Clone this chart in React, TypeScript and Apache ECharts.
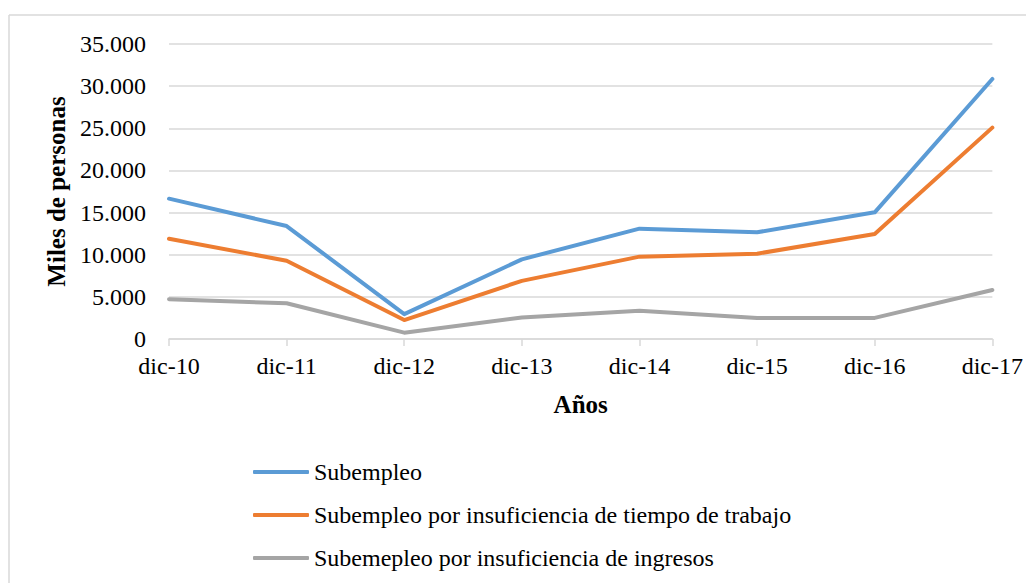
import React, { useEffect, useRef } from "react";
import * as echarts from "echarts";

const categories = ["dic-10", "dic-11", "dic-12", "dic-13", "dic-14", "dic-15", "dic-16", "dic-17"];
const subempleo = [16650, 13400, 2950, 9450, 13090, 12660, 15030, 30850];
const subTiempo = [11900, 9290, 2250, 6900, 9770, 10120, 12460, 25080];
const subIngresos = [4720, 4240, 750, 2560, 3360, 2500, 2500, 5820];
const seriesNames = [
  "Subempleo",
  "Subempleo por insuficiencia de tiempo de trabajo",
  "Subemepleo por insuficiencia de ingresos",
];
const colors = ["#5B9BD5", "#ED7D31", "#A5A5A5"];

const FONT = "'Liberation Serif', 'Times New Roman', serif";

export default function App() {
  const ref = useRef<HTMLDivElement>(null);
  useEffect(() => {
    if (!ref.current) return;
    const chart = echarts.init(ref.current, undefined, { renderer: "svg" });
    const fmt = (v: number) =>
      v === 0 ? "0" : String(v).replace(/\B(?=(\d{3})+(?!\d))/g, ".");
    const data = [subempleo, subTiempo, subIngresos];
    chart.setOption({
      animation: false,
      backgroundColor: "#ffffff",
      textStyle: { fontFamily: FONT, color: "#000" },
      grid: { left: 169, right: 32, top: 44, bottom: 244 },
      graphic: [
        { type: "line", shape: { x1: 9, y1: 15, x2: 9, y2: 600 }, style: { stroke: "#d9d9d9", lineWidth: 1.5 } },
        { type: "line", shape: { x1: 9, y1: 15, x2: 1040, y2: 15 }, style: { stroke: "#d9d9d9", lineWidth: 1.5 } },
      ],
      legend: {
        orient: "vertical",
        left: 253,
        top: 460,
        padding: 0,
        itemWidth: 56,
        itemHeight: 4,
        itemGap: 19,
        icon: "roundRect",
        textStyle: { fontFamily: FONT, fontSize: 24, color: "#000", lineHeight: 24 },
        data: seriesNames,
      },
      xAxis: {
        type: "category",
        data: categories,
        boundaryGap: false,
        axisLine: { lineStyle: { color: "#d9d9d9", width: 1.5 } },
        axisTick: { show: true, length: 7, lineStyle: { color: "#d9d9d9", width: 1.5 } },
        axisLabel: { fontFamily: FONT, fontSize: 24, color: "#000", margin: 15 },
        name: "Años",
        nameLocation: "middle",
        nameGap: 53,
        nameTextStyle: { fontFamily: FONT, fontSize: 25, fontWeight: "bold", color: "#000" },
      },
      yAxis: {
        type: "value",
        min: 0,
        max: 35000,
        interval: 5000,
        axisLine: { show: false },
        axisTick: { show: false },
        splitLine: { lineStyle: { color: "#d9d9d9", width: 1.5 } },
        axisLabel: { fontFamily: FONT, fontSize: 24, color: "#000", margin: 23, formatter: fmt },
        name: "Miles de personas",
        nameLocation: "middle",
        nameGap: 91,
        nameRotate: 90,
        nameTextStyle: { fontFamily: FONT, fontSize: 25, fontWeight: "bold", color: "#000" },
      },
      series: seriesNames.map((n, i) => ({
        name: n,
        type: "line",
        data: data[i],
        symbol: "none",
        color: colors[i],
        lineStyle: { width: 4, color: colors[i], cap: "round", join: "round" },
      })),
    });
    return () => chart.dispose();
  }, []);
  return (
    <div
      ref={ref}
      style={{ position: "fixed", left: 0, top: 0, width: 1026, height: 583, background: "#fff" }}
    />
  );
}
